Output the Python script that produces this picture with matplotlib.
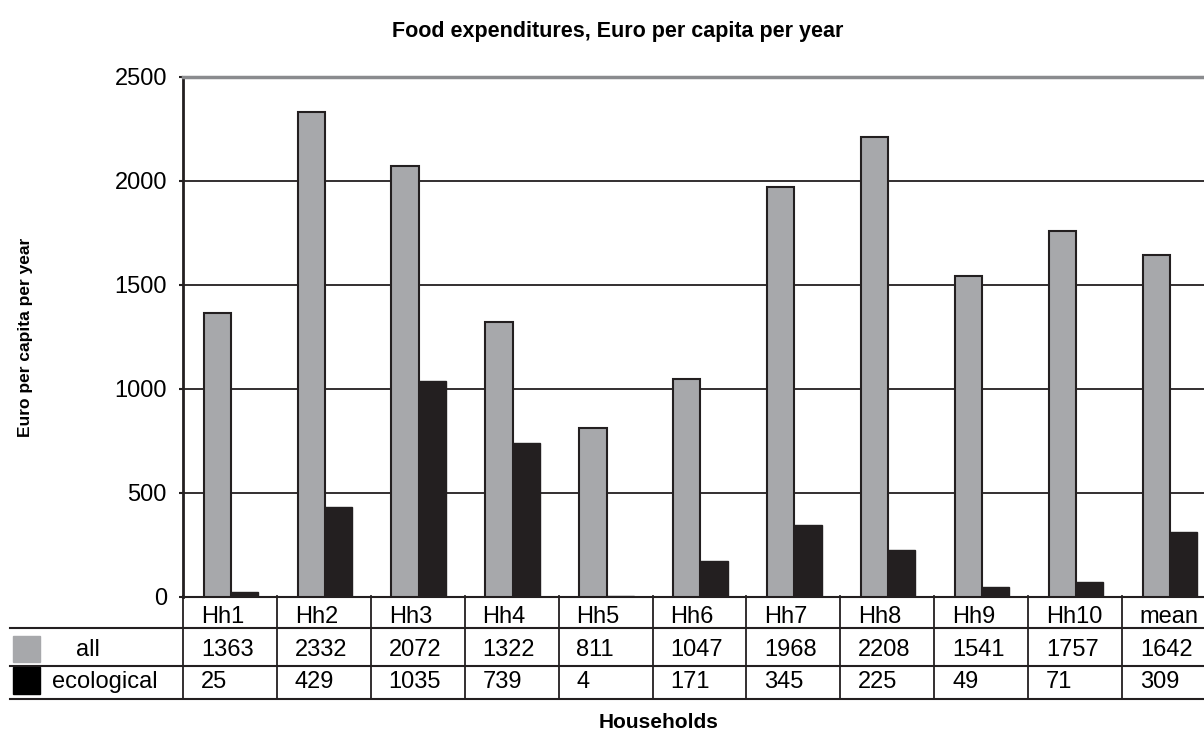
import matplotlib
matplotlib.use("Agg")
import matplotlib.pyplot as plt
from matplotlib.transforms import blended_transform_factory
from matplotlib.lines import Line2D
from matplotlib.patches import Rectangle

# ---- data ----
households = ["Hh1", "Hh2", "Hh3", "Hh4", "Hh5", "Hh6", "Hh7", "Hh8", "Hh9", "Hh10", "mean"]
all_food = [1363, 2332, 2072, 1322, 811, 1047, 1968, 2208, 1541, 1757, 1642]
ecological = [25, 429, 1035, 739, 4, 171, 345, 225, 49, 71, 309]
series_names = ["all", "ecological"]
yticks = [0, 500, 1000, 1500, 2000, 2500]

GRAY = "#a7a8ab"
DARK = "#231f20"
W, H = 1204, 731

plt.rcParams['font.family'] = ['Liberation Sans', 'DejaVu Sans']

fig = plt.figure(figsize=(W / 100, H / 100), dpi=100)

def fx(px):
    return px / W

def fy(py):
    return 1 - py / H

left_px, right_px, top_px, bot_px = 183, 1216, 76.7, 596.7
ax = fig.add_axes([fx(left_px), fy(bot_px), fx(right_px - left_px), (bot_px - top_px) / H])

n = len(households)
x = list(range(n))
bw = 0.29
ax.bar([i - 0.135 for i in x], all_food, width=bw, color=GRAY, edgecolor=DARK, linewidth=1.5, zorder=3)
ax.bar([i + 0.155 for i in x], ecological, width=bw, color=DARK, edgecolor=DARK, linewidth=1.0, zorder=3)

ax.set_xlim(-0.5, n - 0.5)
ax.set_ylim(0, 2500)
ax.set_yticks(yticks)
ax.set_yticklabels([str(v) for v in yticks], fontsize=17)
ax.set_xticks([])
ax.tick_params(axis='y', length=3, width=1.5, color=DARK, pad=8.6)
for v in yticks[1:-1]:
    ax.axhline(v, color=DARK, linewidth=1.3, zorder=1)
ax.spines['top'].set_color("#8a8b8e")
ax.spines['top'].set_linewidth(2.5)
ax.spines['left'].set_color(DARK)
ax.spines['left'].set_linewidth(2)
ax.spines['bottom'].set_color(DARK)
ax.spines['bottom'].set_linewidth(1.5)
ax.spines['right'].set_visible(False)

# ---- data table ----
bt = blended_transform_factory(ax.transData, fig.transFigure)
for yy in [628, 666, 699]:
    fig.add_artist(Line2D([fx(10), 1.0], [fy(yy), fy(yy)], color=DARK, linewidth=1.5))
for k in range(n + 1):
    xb = -0.5 + k
    fig.add_artist(Line2D([xb, xb], [fy(596), fy(699)], color=DARK, linewidth=1.3, transform=bt))

for i, name in enumerate(households):
    xl = i - 0.5 + 0.19
    fig.text(xl, fy(623), name, transform=bt, fontsize=17, ha='left', va='baseline')
    fig.text(xl, fy(656), str(all_food[i]), transform=bt, fontsize=17, ha='left', va='baseline')
    fig.text(xl, fy(688), str(ecological[i]), transform=bt, fontsize=17, ha='left', va='baseline')

# legend keys
fig.add_artist(Rectangle((fx(13), fy(662)), fx(27), (662 - 636) / H, color=GRAY))
fig.add_artist(Rectangle((fx(13), fy(694)), fx(27), (694 - 667) / H, color="black"))
fig.text(fx(76), fy(656), series_names[0], fontsize=17, ha='left', va='baseline')
fig.text(fx(52), fy(688), series_names[1], fontsize=17, ha='left', va='baseline')

# titles
fig.text(fx(392), fy(37.5), "Food expenditures, Euro per capita per year", fontsize=15.5,
         fontweight='bold', ha='left', va='baseline')
fig.text(fx(659), fy(728), "Households", fontsize=15, fontweight='bold',
         ha='center', va='baseline')
fig.text(fx(26), fy(337), "Euro per capita per year", fontsize=12.5, fontweight='bold',
         rotation=90, ha='center', va='center')

fig.savefig("out.png", dpi=100)
